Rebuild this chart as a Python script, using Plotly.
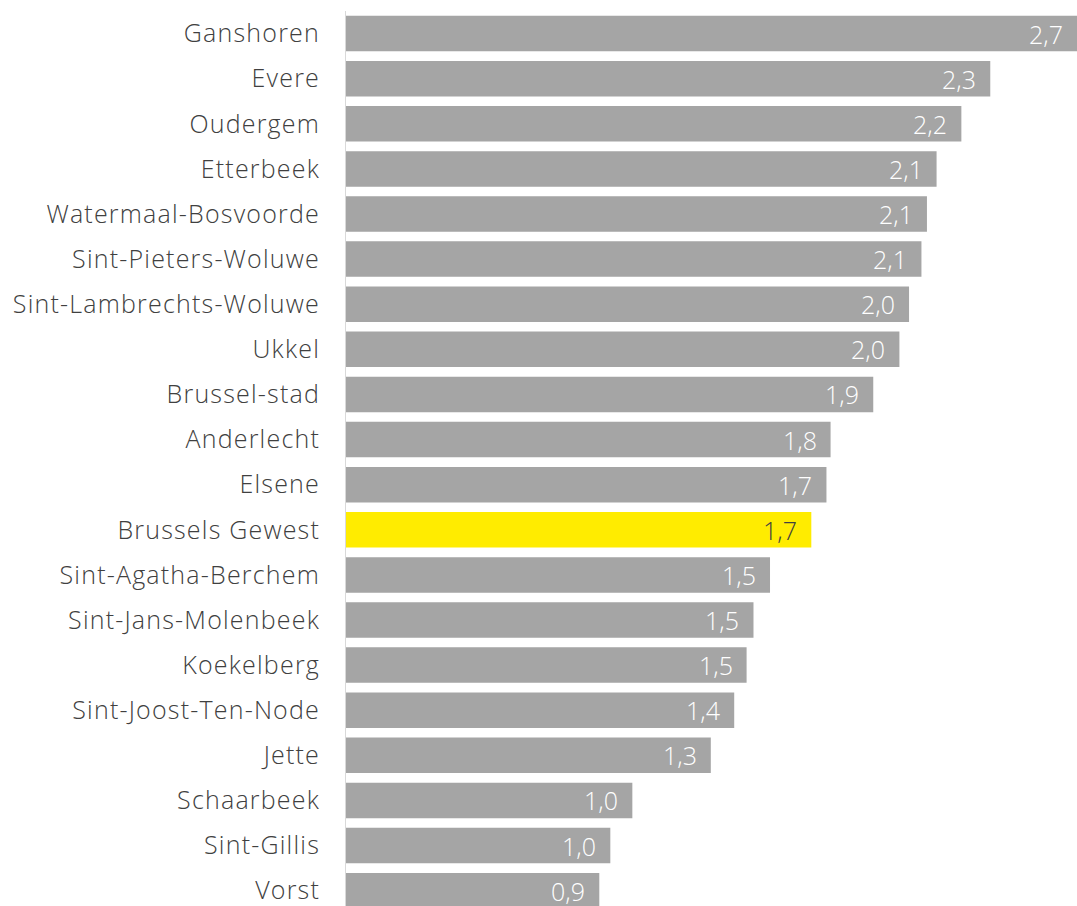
import plotly.graph_objects as go

# Gemeenten van het Brussels Gewest, van hoog naar laag
gemeenten = [
    "Ganshoren", "Evere", "Oudergem", "Etterbeek", "Watermaal-Bosvoorde",
    "Sint-Pieters-Woluwe", "Sint-Lambrechts-Woluwe", "Ukkel", "Brussel-stad",
    "Anderlecht", "Elsene", "Brussels Gewest", "Sint-Agatha-Berchem",
    "Sint-Jans-Molenbeek", "Koekelberg", "Sint-Joost-Ten-Node", "Jette",
    "Schaarbeek", "Sint-Gillis", "Vorst",
]
waarden = [
    2.655, 2.34, 2.235, 2.145, 2.11,
    2.09, 2.045, 2.01, 1.915,
    1.76, 1.745, 1.69, 1.54,
    1.48, 1.455, 1.41, 1.325,
    1.04, 0.96, 0.92,
]
gewest = "Brussels Gewest"

GRIJS = "#a5a5a5"
GEEL = "#ffec00"
TEKST = "#404040"
FONT = "Open Sans"

kleuren = [GEEL if g == gewest else GRIJS for g in gemeenten]
labelkleuren = [TEKST if g == gewest else "#ffffff" for g in gemeenten]

fig = go.Figure(
    go.Bar(
        x=waarden,
        y=gemeenten,
        orientation="h",
        marker=dict(color=kleuren, line=dict(width=0)),
        hoverinfo="skip",
    )
)

for g, v, kl in zip(gemeenten, waarden, labelkleuren):
    fig.add_annotation(
        x=v, y=g, xref="x", yref="y",
        text=f"{v:.1f}".replace(".", ","),
        showarrow=False, xanchor="right", yanchor="middle",
        xshift=-12,
        font=dict(family=FONT, size=25, color=kl, weight=300),
    )

fig.update_layout(
    width=1077, height=906,
    margin=dict(l=346, r=0, t=11, b=0),
    paper_bgcolor="white", plot_bgcolor="white",
    bargap=0.213,
    showlegend=False,
    font=dict(family=FONT),
    xaxis=dict(visible=False, range=[0, max(waarden)], fixedrange=True),
    yaxis=dict(
        type="category",
        categoryorder="array", categoryarray=gemeenten,
        range=[len(gemeenten) - 1 + 0.34, -0.5],
        showline=True, linecolor="#d9d9d9", linewidth=1,
        showgrid=False, zeroline=False, ticks="",
        ticklabelstandoff=20,
        tickfont=dict(family=FONT, size=25, color=TEKST, weight=300),
        fixedrange=True,
    ),
)

# wider tracking on the category names
spacing_js = (
    "document.querySelectorAll('.ytick text').forEach(function(t){"
    "t.style.letterSpacing='1.2px';});"
)

fig.write_html("out.html", post_script=spacing_js)
